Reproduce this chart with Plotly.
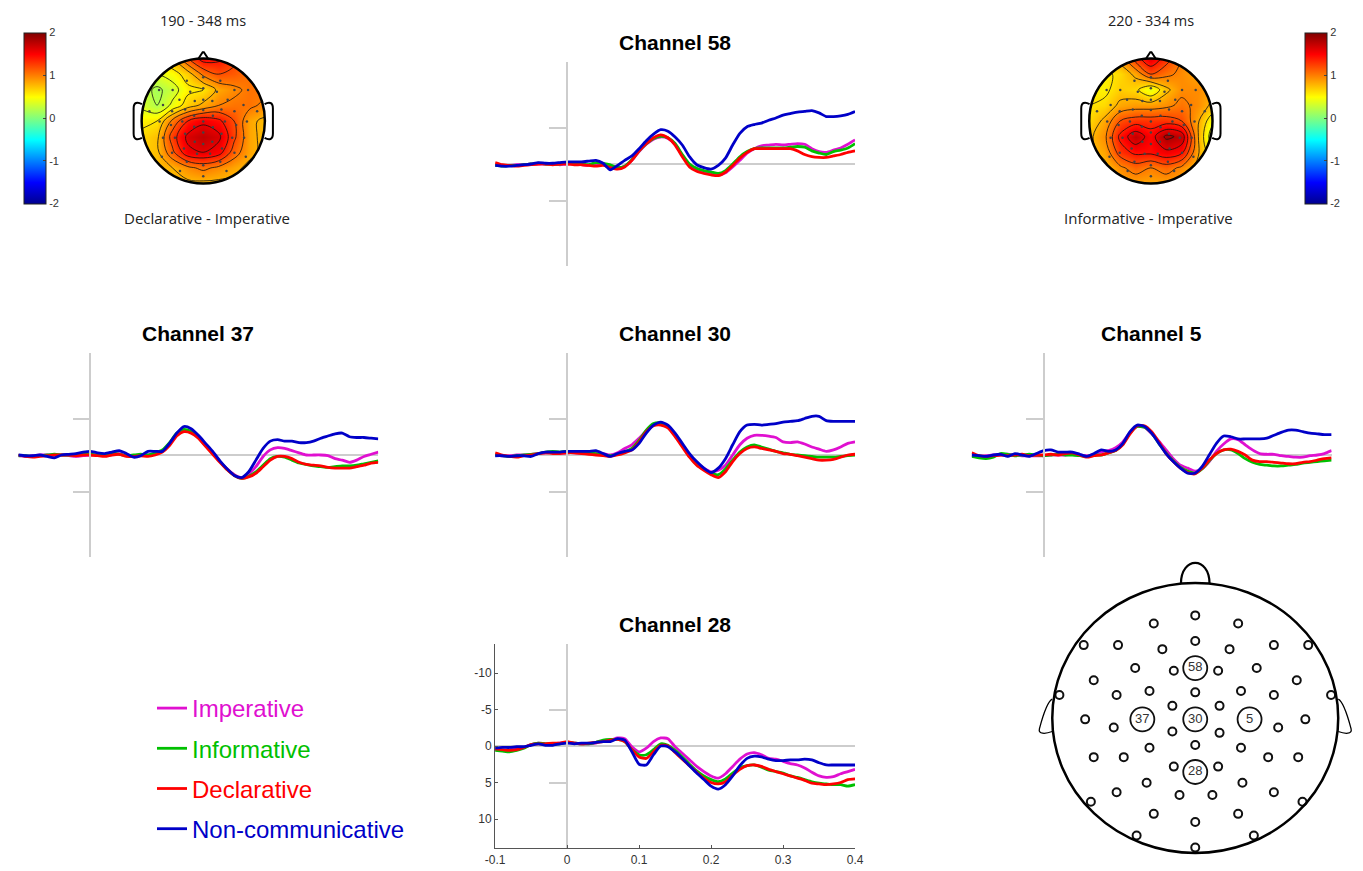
import plotly.graph_objects as go

W, H = 1363, 871

# ---------------- data ----------------
TIME = [round(-0.10 + 0.01 * i, 2) for i in range(51)]   # seconds, 10 ms sampling grid

COND_NAMES = ['Imperative', 'Informative', 'Declarative', 'Non-communicative']
COND_COLORS = ['#e010d0', '#00c000', '#ff0000', '#0000c8']

# amplitudes in microvolts (negative plotted upward)
CH58_IMP = [0.1,0.2,0.2,0.1,0.1,0.0,0.0,0.0,0.0,0.1, 0.0,0.0,0.1,0.2,0.1,0.0,0.2,0.5,0.3,-0.5,
            -1.7,-2.7,-3.4,-3.7,-3.5,-2.7,-1.2,0.1,0.8,1.1, 1.3,1.5,1.2,0.4,-0.5,-1.5,-2.1,-2.5,-2.6,-2.7,
            -2.6,-2.7,-2.8,-2.7,-2.1,-1.7,-1.6,-1.9,-2.2,-2.7,-3.3]
CH58_INF = [0.2,0.3,0.2,0.2,0.1,0.0,-0.1,0.0,0.0,0.0, -0.1,-0.1,0.0,0.1,-0.2,-0.1,0.1,0.5,0.3,-0.6,
            -1.8,-2.8,-3.5,-3.8,-3.6,-2.8,-1.3,0.0,0.6,0.9, 1.1,1.3,0.9,0.0,-1.0,-1.7,-2.1,-2.2,-2.2,-2.2,
            -2.2,-2.3,-2.4,-2.3,-1.8,-1.5,-1.3,-1.7,-1.9,-2.2,-2.8]
CH58_DEC = [-0.2,0.1,0.2,0.3,0.2,0.1,0.0,0.0,0.1,0.0, 0.0,0.1,0.1,0.2,0.3,0.2,0.5,0.7,0.4,-0.5,
            -1.8,-2.8,-3.6,-4.0,-3.6,-2.6,-1.0,0.4,1.0,1.3, 1.5,1.6,1.1,0.2,-0.8,-1.6,-2.1,-2.1,-2.1,-2.1,
            -2.1,-2.1,-1.8,-1.3,-1.0,-0.9,-0.9,-1.1,-1.3,-1.6,-1.8]
CH58_NON = [0.2,0.3,0.3,0.2,0.1,0.0,-0.2,-0.1,-0.1,-0.2, -0.3,-0.3,-0.3,-0.4,-0.5,-0.1,0.8,0.2,-0.5,-1.1,
            -2.1,-3.2,-4.1,-4.7,-4.5,-3.7,-2.6,-1.0,0.1,0.5, 0.7,0.2,-0.8,-2.6,-4.2,-5.1,-5.4,-5.6,-6.0,-6.3,
            -6.7,-6.9,-7.1,-7.2,-7.3,-7.0,-6.5,-6.5,-6.6,-6.8,-7.2]

CH37_IMP = [0.1,0.2,0.1,0.0,0.0,0.0,0.0,0.1,0.2,0.1, 0.0,0.0,0.0,-0.1,-0.2,0.1,0.2,0.1,0.0,-0.2,
            -0.5,-1.5,-2.8,-3.4,-3.2,-2.5,-1.4,-0.3,0.9,1.9, 2.7,3.1,2.6,1.6,0.2,-0.7,-1.0,-0.9,-0.6,-0.3,
            0.0,0.0,0.0,0.1,0.5,0.7,1.0,0.7,0.2,-0.1,-0.4]
CH37_INF = [0.1,0.1,0.2,0.1,0.0,-0.1,0.0,0.0,0.0,-0.1, -0.1,0.0,0.0,-0.3,-0.1,0.1,0.0,-0.1,0.0,-0.3,
            -0.7,-1.7,-3.0,-3.5,-3.2,-2.4,-1.3,-0.2,0.9,2.0, 2.8,3.2,2.9,2.3,1.4,0.5,0.2,0.3,0.7,1.1,
            1.3,1.5,1.6,1.7,1.6,1.5,1.5,1.4,1.2,1.0,0.8]
CH37_DEC = [0.0,0.2,0.3,0.2,0.1,0.0,0.0,0.0,0.1,0.0, 0.0,0.1,0.2,0.0,-0.1,0.2,0.2,0.1,0.2,0.0,
            -0.4,-1.3,-2.6,-3.2,-3.0,-2.3,-1.2,-0.1,1.0,2.0, 2.8,3.2,3.0,2.5,1.6,0.7,0.2,0.2,0.5,1.0,
            1.3,1.4,1.5,1.7,1.8,1.8,1.8,1.6,1.4,1.1,1.0]
CH37_NON = [0.0,0.1,0.1,0.0,0.2,0.4,0.0,-0.1,-0.2,-0.4, -0.5,-0.3,-0.2,-0.4,-0.6,-0.2,0.3,0.1,-0.5,-0.5,
            -0.5,-1.6,-3.0,-3.9,-3.6,-2.7,-1.6,-0.5,0.8,1.9, 2.8,3.1,2.3,0.7,-0.9,-1.9,-2.1,-1.9,-1.9,-1.7,
            -1.7,-1.9,-2.3,-2.6,-2.9,-3.0,-2.5,-2.4,-2.4,-2.3,-2.2]

CH30_IMP = [0.0,0.1,0.1,0.0,0.0,-0.1,-0.2,-0.3,-0.3,-0.2, -0.3,-0.3,-0.2,-0.2,-0.3,-0.2,0.0,-0.3,-0.9,-1.4,
            -2.3,-3.3,-4.1,-4.2,-3.8,-2.7,-1.4,0.0,1.1,1.8, 2.3,2.1,1.4,0.0,-1.4,-2.3,-2.7,-2.7,-2.6,-2.4,
            -1.8,-1.7,-1.8,-1.5,-1.1,-0.8,-0.5,-0.7,-1.1,-1.6,-1.8]
CH30_INF = [0.0,0.1,0.2,0.1,0.0,-0.1,-0.2,-0.4,-0.5,-0.4, -0.5,-0.4,-0.3,-0.3,-0.2,0.0,0.1,-0.1,-0.4,-0.9,
            -2.0,-3.4,-4.3,-4.4,-3.9,-2.7,-1.3,0.2,1.3,2.0, 2.5,2.7,1.9,0.7,-0.4,-1.1,-1.4,-1.1,-0.8,-0.5,
            -0.3,-0.1,0.0,0.1,0.2,0.3,0.3,0.3,0.2,0.1,0.0]
CH30_DEC = [-0.3,0.0,0.2,0.3,0.1,0.0,-0.2,-0.3,-0.2,-0.2, -0.3,-0.3,-0.2,-0.1,0.0,0.1,0.2,0.0,-0.3,-0.7,
            -1.8,-3.2,-4.0,-4.1,-3.7,-2.5,-1.1,0.3,1.4,2.1, 2.7,3.1,2.3,0.9,-0.2,-0.9,-1.1,-0.9,-0.7,-0.5,
            -0.2,-0.1,0.1,0.3,0.5,0.7,0.7,0.6,0.3,0.0,-0.1]
CH30_NON = [0.1,0.1,0.2,0.1,0.1,0.2,-0.2,-0.4,-0.4,-0.4, -0.5,-0.5,-0.5,-0.5,-0.6,-0.2,0.2,-0.2,-0.5,-0.7,
            -1.6,-3.0,-4.1,-4.5,-4.1,-3.0,-1.6,-0.2,0.9,1.8, 2.4,1.8,0.5,-1.4,-3.2,-4.1,-4.2,-4.1,-4.2,-4.3,
            -4.5,-4.6,-4.7,-5.0,-5.3,-5.3,-4.7,-4.6,-4.6,-4.6,-4.6]

CH5_IMP = [0.1,0.2,0.1,0.0,0.0,-0.1,0.0,0.1,0.1,0.1, 0.1,0.0,0.0,0.0,-0.1,0.0,0.1,-0.1,-0.4,-0.6,
           -1.0,-1.8,-3.1,-3.9,-3.8,-2.9,-1.9,-0.7,0.5,1.4, 1.8,2.2,1.9,0.9,-0.5,-1.5,-2.2,-2.1,-1.4,-0.7,
           -0.2,-0.1,-0.1,0.1,0.2,0.3,0.3,0.1,0.0,-0.2,-0.6]
CH5_INF = [0.2,0.4,0.5,0.3,-0.2,-0.1,0.1,0.0,-0.1,0.0, 0.1,0.0,-0.1,0.0,0.0,0.1,0.2,0.0,0.0,-0.3,
           -0.6,-1.5,-3.0,-3.9,-3.8,-3.0,-1.6,-0.3,0.8,1.7, 2.2,2.5,1.9,0.8,-0.2,-0.7,-0.7,-0.2,0.5,1.0,
           1.3,1.4,1.5,1.5,1.4,1.3,1.1,1.0,0.9,0.8,0.7]
CH5_DEC = [-0.3,0.1,0.2,0.1,0.0,0.1,0.0,-0.1,0.1,0.0, 0.0,-0.1,0.0,-0.2,-0.3,0.0,0.3,0.1,0.0,-0.3,
           -0.6,-1.4,-2.9,-4.0,-4.0,-3.2,-1.8,-0.2,0.9,1.8, 2.4,2.6,1.8,0.7,-0.2,-0.7,-0.8,-0.5,0.0,0.7,
           0.9,0.9,1.0,1.1,1.2,1.2,1.0,0.9,0.7,0.5,0.4]
CH5_NON = [0.0,0.1,0.2,0.0,-0.1,0.2,-0.2,0.0,0.2,-0.2, -0.6,-0.7,-0.4,-0.4,-0.4,-0.1,0.2,-0.2,-0.7,-0.5,
           -0.7,-1.6,-3.2,-4.1,-3.9,-3.0,-1.6,-0.2,0.9,1.8, 2.5,2.5,1.6,0.0,-1.6,-2.6,-2.5,-2.2,-2.2,-2.2,
           -2.2,-2.3,-2.7,-3.1,-3.4,-3.4,-3.2,-3.0,-2.9,-2.8,-2.8]

CH28_IMP = [0.5,0.6,0.5,0.4,0.2,-0.2,-0.4,-0.3,-0.3,-0.4, -0.5,-0.4,-0.3,-0.3,-0.4,-0.7,-0.8,-1.1,-1.0,0.1,
            0.8,0.3,-0.6,-1.1,-1.0,0.1,1.0,1.9,2.8,3.5, 4.1,4.4,3.8,2.8,1.8,1.1,0.9,1.2,1.7,1.8,
            2.1,2.4,2.6,3.0,3.6,4.1,4.3,4.2,3.8,3.5,3.2]
CH28_INF = [0.6,0.7,0.8,0.6,0.3,-0.2,-0.4,-0.3,-0.3,-0.3, -0.5,-0.4,-0.3,-0.3,-0.5,-0.8,-0.9,-0.9,-0.6,0.5,
            1.2,1.2,0.5,-0.3,-0.1,0.6,1.5,2.5,3.4,4.1, 4.6,4.9,4.5,3.7,3.0,2.7,2.6,2.9,3.3,3.5,
            3.7,4.1,4.3,4.6,4.9,5.1,5.2,5.3,5.3,5.5,5.3]
CH28_DEC = [0.4,0.5,0.6,0.5,0.2,-0.2,-0.3,-0.3,-0.4,-0.4, -0.6,-0.4,-0.3,-0.4,-0.5,-0.6,-0.8,-0.9,-0.6,0.5,
            1.5,1.7,0.8,-0.1,0.0,0.9,1.8,2.7,3.6,4.4, 5.0,5.2,4.9,4.0,3.2,2.7,2.6,2.8,3.2,3.5,
            3.8,4.1,4.4,4.7,5.1,5.2,5.3,5.2,5.0,4.6,4.5]
CH28_NON = [0.3,0.2,0.2,0.1,0.1,-0.1,-0.3,-0.1,-0.1,-0.3, -0.4,-0.3,-0.4,-0.4,-0.5,-0.6,-0.6,-1.0,-0.8,0.8,
            2.5,2.6,1.2,0.0,0.1,0.8,1.7,2.7,3.7,4.6, 5.5,5.9,5.3,4.1,2.7,1.7,1.4,1.5,1.8,2.0,
            2.0,1.9,1.9,1.8,1.9,2.3,2.6,2.6,2.6,2.6,2.6]

CHANNELS = ['58', '37', '30', '5', '28']
CH_DATA = {
    '58': [CH58_IMP, CH58_INF, CH58_DEC, CH58_NON],
    '37': [CH37_IMP, CH37_INF, CH37_DEC, CH37_NON],
    '30': [CH30_IMP, CH30_INF, CH30_DEC, CH30_NON],
    '5':  [CH5_IMP, CH5_INF, CH5_DEC, CH5_NON],
    '28': [CH28_IMP, CH28_INF, CH28_DEC, CH28_NON],
}

X_TICKS = [-0.1, 0, 0.1, 0.2, 0.3, 0.4]
X_TICKTEXT = ['-0.1', '0', '0.1', '0.2', '0.3', '0.4']
Y_TICKS = [-10, -5, 0, 5, 10]
Y_TICKTEXT = ['-10', '-5', '0', '5', '10']

# topographic maps: grid of difference values (uV), rows from front (top) to back
TOPO_GRID = [-1.0, -0.75, -0.5, -0.25, 0.0, 0.25, 0.5, 0.75, 1.0]
TOPO_DEC_IMP = [
    [0.5, 0.6, 0.8, 1.2, 1.5, 1.45, 1.25, 1.0, 0.9],
    [0.4, 0.4, 0.5, 0.7, 1.05, 1.2, 1.15, 1.05, 0.95],
    [0.3, 0.15, 0.3, 0.55, 0.6, 0.85, 0.95, 1.05, 1.05],
    [0.35, 0.2, 0.45, 0.7, 0.85, 1.0, 1.05, 1.05, 0.95],
    [0.55, 0.6, 1.05, 1.4, 1.55, 1.45, 1.2, 0.85, 0.75],
    [0.65, 0.75, 1.3, 1.65, 1.75, 1.65, 1.25, 0.85, 0.75],
    [0.7, 0.75, 1.15, 1.55, 1.6, 1.5, 1.1, 0.85, 0.75],
    [0.75, 0.75, 0.8, 0.95, 1.05, 0.95, 0.85, 0.75, 0.75],
    [0.75, 0.75, 0.75, 0.75, 0.75, 0.75, 0.75, 0.75, 0.75],
]
TOPO_INF_IMP = [
    [0.7, 0.8, 0.9, 1.3, 1.6, 1.3, 1.0, 0.9, 0.8],
    [0.55, 0.55, 0.65, 0.85, 1.2, 1.05, 0.95, 0.85, 0.75],
    [0.55, 0.55, 0.7, 0.65, 0.4, 0.75, 0.95, 0.95, 0.85],
    [0.6, 0.65, 0.85, 0.9, 0.9, 0.95, 1.05, 0.95, 0.75],
    [0.65, 0.85, 1.2, 1.3, 1.3, 1.3, 1.2, 0.85, 0.45],
    [0.75, 0.95, 1.45, 1.75, 1.5, 1.85, 1.75, 0.85, 0.25],
    [0.75, 0.85, 1.3, 1.45, 1.45, 1.55, 1.45, 0.85, 0.45],
    [0.75, 0.75, 0.95, 1.1, 1.0, 1.1, 0.95, 0.75, 0.75],
    [0.85, 0.85, 0.85, 0.85, 0.85, 0.85, 0.85, 0.85, 0.85],
]
CB_TICKS = [-2, -1, 0, 1, 2]
CB_TICKTEXT = ['-2', '-1', '0', '1', '2']

# electrode layout (head radius = 1)
ELEC_X = [0.00,-0.29,0.30,-0.78,-0.54,-0.23,0.00,0.24,0.55,0.79,-0.42,-0.15,0.16,0.43,-0.71,0.71,
          -0.95,-0.55,-0.32,0.00,0.32,0.55,0.95,-0.16,0.17,-0.77,0.77,-0.57,-0.16,0.17,0.58,-0.32,
          0.00,0.32,-0.71,-0.50,0.51,0.72,-0.15,0.16,-0.34,0.33,-0.55,-0.11,0.12,0.55,-0.73,0.75,
          -0.29,0.30,0.00,-0.41,0.41,0.00]
ELEC_Y = [0.76,0.70,0.70,0.54,0.54,0.51,0.57,0.51,0.54,0.54,0.37,0.35,0.35,0.37,0.28,0.28,
          0.17,0.17,0.20,0.19,0.20,0.17,0.17,0.09,0.09,-0.01,-0.01,-0.07,-0.10,-0.11,-0.07,-0.22,
          -0.20,-0.22,-0.29,-0.29,-0.29,-0.29,-0.36,-0.36,-0.48,-0.48,-0.55,-0.57,-0.57,-0.55,-0.62,-0.62,
          -0.71,-0.71,-0.77,-0.87,-0.87,-0.96]
LAB_NAMES = ['58', '37', '30', '5', '28']
LAB_X = [0.00, -0.37, 0.00, 0.38, 0.00]
LAB_Y = [0.37, -0.01, -0.01, -0.01, -0.40]

JET = [[0.0, '#00008f'], [0.125, '#0000ff'], [0.375, '#00ffff'],
       [0.625, '#ffff00'], [0.875, '#ff0000'], [1.0, '#800000']]

# ---------------- layout helpers ----------------
def fx(px):
    return px / W

def fy(py):
    return 1 - py / H

# pixel boxes of the ERP panels: left, right, top, bottom
PANEL_BOX = {
    '58': (492.0, 857.0, 61.8, 266.2),
    '37': (8.5, 373.5, 352.8, 557.2),
    '30': (492.0, 857.0, 352.8, 557.2),
    '5':  (975.3, 1340.3, 352.8, 557.2),
    '28': (492.0, 857.0, 643.8, 848.2),
}
AX_ID = {'58': '', '37': '2', '30': '3', '5': '4', '28': '5'}
GRAY = '#cdcdcd'
FONT = 'Arial, Liberation Sans, sans-serif'

fig = go.Figure()
layout = dict(width=W, height=H, margin=dict(l=0, r=0, t=0, b=0),
              paper_bgcolor='white', plot_bgcolor='rgba(0,0,0,0)',
              font=dict(family=FONT, color='#333'))
annotations = []
shapes = []

for ch in CHANNELS:
    l, r, t, b = PANEL_BOX[ch]
    aid = AX_ID[ch]
    xa, ya = 'x' + aid, 'y' + aid
    for i, vals in enumerate(CH_DATA[ch]):
        fig.add_trace(go.Scatter(
            x=TIME, y=vals, mode='lines', xaxis=xa, yaxis=ya,
            line=dict(color=COND_COLORS[i], width=2.8, shape='spline', smoothing=0.6),
            name='<span style="color:%s">%s</span>' % (COND_COLORS[i], COND_NAMES[i]),
            legendgroup=COND_NAMES[i], showlegend=(ch == '58'), hoverinfo='skip'))
    x0_px = l + (r - l) * 0.2
    xdict = dict(domain=[fx(l), fx(r)], range=[-0.1, 0.4], showgrid=False, zeroline=False,
                 anchor=ya)
    ydict = dict(domain=[fy(b), fy(t)], range=[14, -14], showgrid=False,
                 zeroline=True, zerolinecolor=GRAY, zerolinewidth=1.5)
    if ch != '28':
        xdict.update(showline=False, showticklabels=False, ticks='')
        ydict.update(anchor='free', position=fx(x0_px), showline=True, linecolor=GRAY,
                     linewidth=1.5, ticks='outside', tickvals=[-5, 5], ticklen=17,
                     tickcolor=GRAY, tickwidth=1.5, showticklabels=False)
    else:
        xdict.update(showline=True, linecolor='#555', linewidth=1.2, ticks='inside', ticklen=3,
                     tickcolor='#555', tickvals=X_TICKS, ticktext=X_TICKTEXT,
                     tickfont=dict(size=12, color='#333'))
        ydict.update(anchor=xa, showline=True, linecolor='#555', linewidth=1.2, ticks='inside',
                     ticklen=3, tickcolor='#555', tickvals=Y_TICKS, ticktext=Y_TICKTEXT,
                     tickfont=dict(size=12, color='#333'))
        layout['yaxis6'] = dict(overlaying='y5', anchor='free', position=fx(x0_px),
                                domain=[fy(b), fy(t)], range=[14, -14], showgrid=False,
                                zeroline=False, showline=True, linecolor=GRAY, linewidth=1.5,
                                ticks='outside', tickvals=[-5, 5], ticklen=17, tickcolor=GRAY,
                                tickwidth=1.5, showticklabels=False)
        fig.add_trace(go.Scatter(x=[None], y=[None], xaxis='x5', yaxis='y6', mode='lines',
                                 showlegend=False, hoverinfo='skip'))
    layout['xaxis' + aid] = xdict
    layout['yaxis' + aid] = ydict
    annotations.append(dict(text='<b>Channel %s</b>' % ch, xref='paper', yref='paper',
                            x=fx((l + r) / 2), y=fy(t - 19), xanchor='center', yanchor='middle',
                            showarrow=False, font=dict(size=21, color='black', family=FONT)))

# ---------------- topographic maps ----------------
def circle_path(rad):
    k = 0.5523 * rad
    return ('M %g,0 C %g,%g %g,%g 0,%g C %g,%g %g,%g %g,0 C %g,%g %g,%g 0,%g C %g,%g %g,%g %g,0 Z'
            % (rad, rad, k, k, rad, rad, -k, rad, -rad, k, -rad, -rad, -k, -k, -rad, -rad,
               k, -rad, rad, -k, rad))

TOPO_R_PX = 62.5
topo_specs = [
    ((196, 121), ('x6', 'y7', 'xaxis6', 'yaxis7'), TOPO_DEC_IMP, 14, '190 - 348 ms', 'Declarative - Imperative', 196, 200),
    ((1157, 121), ('x7', 'y8', 'xaxis7', 'yaxis8'), TOPO_INF_IMP, 1313, '220 - 334 ms', 'Informative - Imperative', 1157, 1155),
]
half = 80
rng = half / TOPO_R_PX
for (cx, cy), (xa, ya, xk, yk), grid, cbx, ttop, tbot, xtop, xbot in topo_specs:
    zrows = list(reversed(grid))
    yasc = list(TOPO_GRID)
    fig.add_trace(go.Heatmap(
        x=TOPO_GRID, y=yasc, z=zrows, xaxis=xa, yaxis=ya, zsmooth='best',
        colorscale=JET, zmin=-2, zmax=2, hoverinfo='skip', showscale=True,
        colorbar=dict(x=fx(cbx), xanchor='left', xref='paper', y=fy(118), yanchor='middle',
                      len=171, lenmode='pixels', thickness=22, thicknessmode='pixels',
                      outlinewidth=1, outlinecolor='#222', tickvals=CB_TICKS, ticktext=CB_TICKTEXT,
                      ticks='inside', ticklen=3, tickcolor='#444', tickfont=dict(size=11, color='#333'),
                      xpad=0, ypad=0)))
    fig.add_trace(go.Contour(
        x=TOPO_GRID, y=yasc, z=zrows, xaxis=xa, yaxis=ya, autocontour=False,
        contours=dict(start=-2, end=2, size=0.2, coloring='none', showlines=True),
        line=dict(color='#111', width=0.8, smoothing=1.0), hoverinfo='skip', showlegend=False,
        showscale=False))
    fig.add_trace(go.Scatter(x=[v * 0.92 for v in ELEC_X + LAB_X], y=[v * 0.92 for v in ELEC_Y + LAB_Y],
                             mode='markers', xaxis=xa, yaxis=ya, showlegend=False, hoverinfo='skip',
                             marker=dict(size=2.5, color='#444')))
    layout[xk] = dict(domain=[fx(cx - half), fx(cx + half)], range=[-rng, rng], visible=False,
                      anchor=ya)
    layout[yk] = dict(domain=[fy(cy + half), fy(cy - half)], range=[-rng, rng], visible=False,
                      anchor=xa)
    sq = 'M %g,%g L %g,%g L %g,%g L %g,%g Z ' % (-rng, -rng, rng, -rng, rng, rng, -rng, rng)
    shapes.append(dict(type='path', xref=xa, yref=ya, path=sq + circle_path(1.0), fillrule='evenodd',
                       fillcolor='white', line=dict(width=0), layer='above'))
    shapes.append(dict(type='circle', xref=xa, yref=ya, x0=-1, x1=1, y0=-1, y1=1,
                       line=dict(color='black', width=2.5), layer='above'))
    shapes.append(dict(type='path', xref=xa, yref=ya, path='M -0.08,0.995 L -0.01,1.1 L 0.01,1.1 L 0.08,0.995',
                       line=dict(color='black', width=2), layer='above'))
    for s in (-1, 1):
        shapes.append(dict(type='path', xref=xa, yref=ya,
                           path='M %g,0.27 C %g,0.31 %g,0.3 %g,0.2 L %g,-0.2 C %g,-0.3 %g,-0.31 %g,-0.27'
                           % (s * 0.995, s * 1.07, s * 1.13, s * 1.13, s * 1.13, s * 1.13, s * 1.07, s * 0.995),
                           line=dict(color='black', width=2), layer='above'))
    annotations.append(dict(text=ttop, xref='paper', yref='paper', x=fx(xtop), y=fy(20),
                            xanchor='center', yanchor='middle', showarrow=False,
                            font=dict(size=14.5, color='#222', family='Open Sans, sans-serif')))
    annotations.append(dict(text=tbot, xref='paper', yref='paper', x=fx(xbot), y=fy(218),
                            xanchor='center', yanchor='middle', showarrow=False,
                            font=dict(size=15, color='#222', family='Open Sans, sans-serif')))

# ---------------- electrode map ----------------
MAP_L, MAP_R, MAP_T, MAP_B = 1035, 1363, 555, 871
MCX, MCY, MRX, MRY = 1202, 718, 145, 135
fig.add_trace(go.Scatter(x=ELEC_X, y=ELEC_Y, mode='markers', xaxis='x8', yaxis='y9',
                         showlegend=False, hoverinfo='skip',
                         marker=dict(symbol='circle-open', size=8, color='#111', line=dict(width=2))))
fig.add_trace(go.Scatter(x=LAB_X, y=LAB_Y, mode='markers+text', text=LAB_NAMES,
                         textposition='middle center', xaxis='x8', yaxis='y9',
                         showlegend=False, hoverinfo='skip',
                         textfont=dict(size=13, color='#333', family=FONT),
                         marker=dict(symbol='circle-open', size=24, color='#111', line=dict(width=1.8))))
layout['xaxis8'] = dict(domain=[fx(MAP_L), fx(MAP_R)],
                        range=[(MAP_L - MCX) / MRX, (MAP_R - MCX) / MRX], visible=False, anchor='y9')
layout['yaxis9'] = dict(domain=[fy(MAP_B), fy(MAP_T)],
                        range=[(MCY - MAP_B) / MRY, (MCY - MAP_T) / MRY], visible=False, anchor='x8')
shapes.append(dict(type='circle', xref='x8', yref='y9', x0=-1, x1=1, y0=-1, y1=1,
                   line=dict(color='black', width=2.5)))
shapes.append(dict(type='path', xref='x8', yref='y9', path='M -0.1,0.995 C -0.1,1.2 0.1,1.2 0.1,0.995',
                   line=dict(color='black', width=2.2)))
for s in (-1, 1):
    shapes.append(dict(type='path', xref='x8', yref='y9',
                       path='M %g,0.14 C %g,0.12 %g,0.0 %g,-0.08 C %g,-0.12 %g,-0.12 %g,-0.1'
                       % (s * 1.0, s * 1.04, s * 1.07, s * 1.09, s * 1.1, s * 1.05, s * 1.0),
                       line=dict(color='black', width=1.3)))

layout['legend'] = dict(x=fx(144), y=fy(686), xanchor='left', yanchor='top', bgcolor='rgba(0,0,0,0)',
                        font=dict(size=24, family=FONT), tracegroupgap=6, itemwidth=30)
layout['annotations'] = annotations
layout['shapes'] = shapes
layout['showlegend'] = True
fig.update_layout(**layout)
fig.write_html('out.html')
